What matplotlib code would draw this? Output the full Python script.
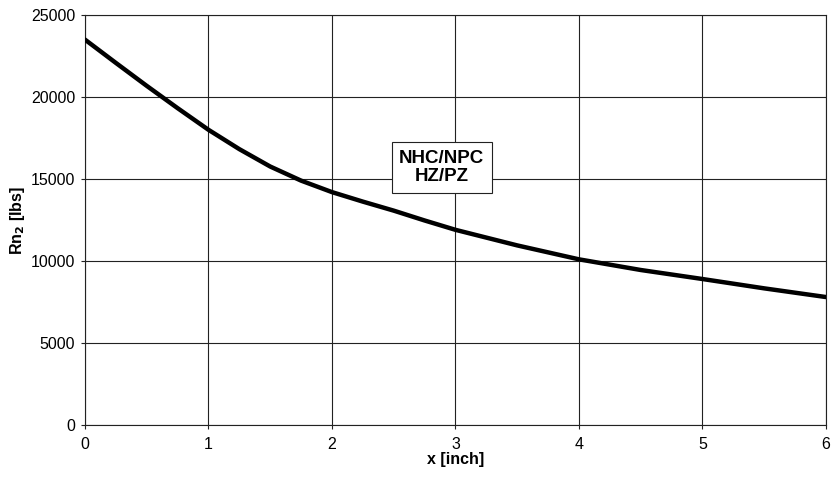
import matplotlib.pyplot as plt

plt.rcParams['font.family'] = ['Liberation Sans', 'DejaVu Sans']

# curve
x_inch = [0, 0.25, 0.5, 0.75, 1, 1.25, 1.5, 1.75, 2, 2.25, 2.5, 2.75,
          3, 3.5, 4, 4.5, 5, 5.5, 6]
rn2_lbs = [23500, 22080, 20680, 19320, 18000, 16820, 15760, 14900,
           14200, 13620, 13070, 12470, 11900, 10950, 10100, 9450,
           8900, 8330, 7800]
x_ticks = [0, 1, 2, 3, 4, 5, 6]
y_ticks = [0, 5000, 10000, 15000, 20000, 25000]

fig = plt.figure(figsize=(8.33, 4.78), dpi=100)
ax = fig.add_axes([0.102, 0.111, 0.8895, 0.8576])

ax.plot(x_inch, rn2_lbs, color='black', lw=3.2, solid_capstyle='round',
        solid_joinstyle='round', zorder=3)

ax.set_xlim(0, 6)
ax.set_ylim(0, 25000)
ax.set_xticks(x_ticks)
ax.set_yticks(y_ticks)
ax.grid(True, color='#222222', lw=0.8)
for s in ax.spines.values():
    s.set_color('#222222')
    s.set_linewidth(0.8)
ax.tick_params(labelsize=11.5, length=3, width=0.8, color='#222222')
ax.tick_params(axis='x', pad=6)
ax.tick_params(axis='y', pad=4)

ax.set_xlabel('x [inch]', fontsize=11.5, fontweight='bold', labelpad=0)
ax.set_ylabel('Rn$_\\mathbf{2}$ [lbs]', fontsize=11.5, fontweight='bold', labelpad=3)

ax.text(2.89, 15700, 'NHC/NPC\nHZ/PZ', ha='center', va='center',
        fontsize=13.5, fontweight='bold', linespacing=1.15, zorder=4,
        bbox=dict(boxstyle='square,pad=0.4', fc='white', ec='#222222', lw=0.8))

fig.savefig('out.png', dpi=100)
